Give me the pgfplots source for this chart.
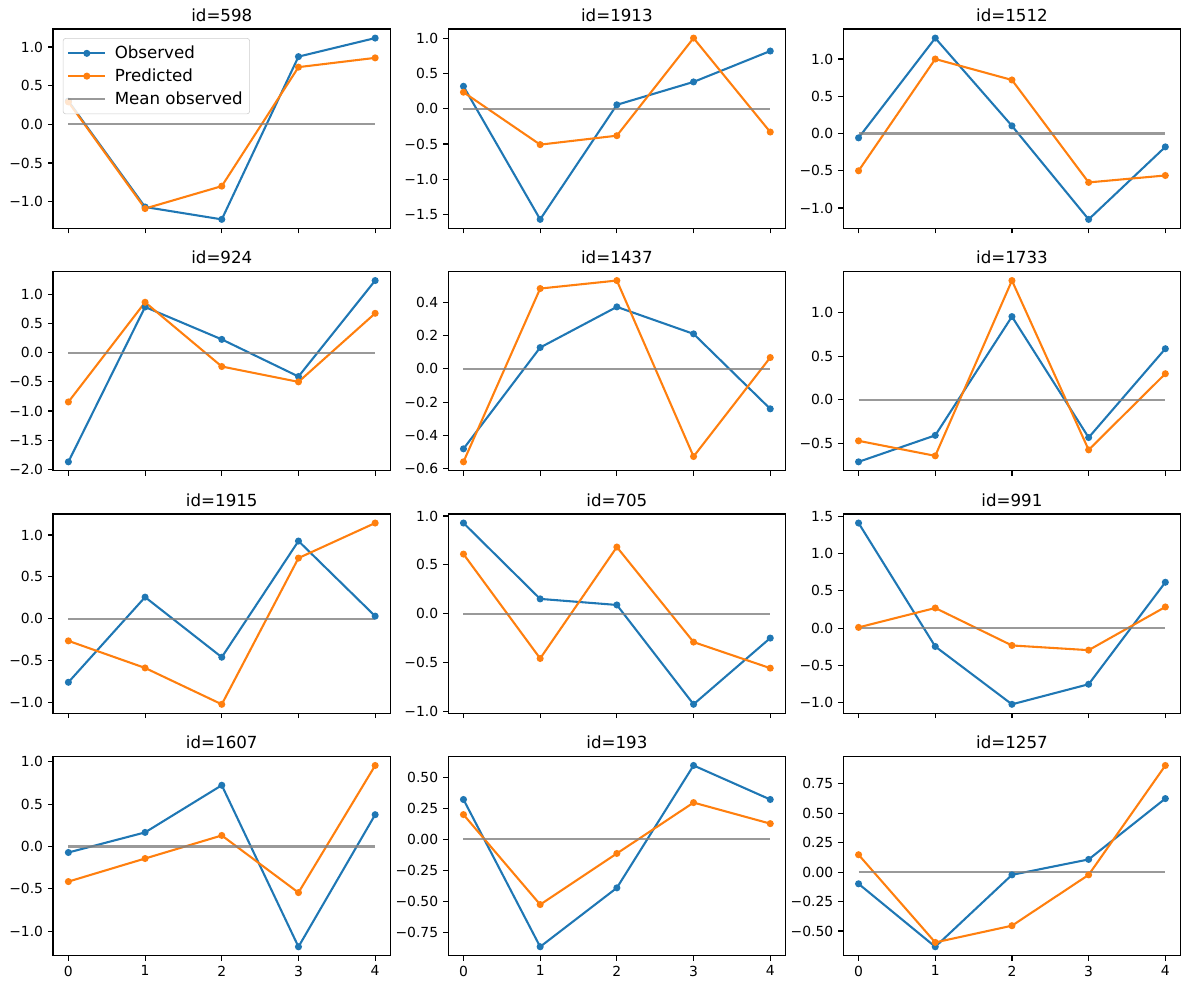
\documentclass[border=0pt]{standalone}
\usepackage{fontspec}
\setmainfont{DejaVu Sans}
\usepackage{pgfplots}
\pgfplotsset{compat=1.18}
\usepgfplotslibrary{groupplots}

\definecolor{tabblue}{HTML}{1F77B4}
\definecolor{taborange}{HTML}{FF7F0E}

% 1 px of the reference = 0.72pt
\pgfplotsset{
  obs/.style={color=tabblue, line width=1.5pt, mark=*, mark size=1.75pt, mark options={draw=none, fill=tabblue}},
  pred/.style={color=taborange, line width=1.5pt, mark=*, mark size=1.75pt, mark options={draw=none, fill=taborange}},
  meanobs/.style={color=gray, opacity=0.8, line width=1.5pt, no marks},
}

\begin{document}
\begin{tikzpicture}
\begin{groupplot}[
    group style={group size=3 by 4, horizontal sep=41.5pt, vertical sep=31pt},
    scale only axis,
    width=243pt,
    height=143.6pt,
    xmin=-0.2, xmax=4.2,
    enlarge y limits=0.05,
    xtick={0,1,2,3,4},
    xticklabels={},
    xtick pos=lower, ytick pos=left,
    tick align=outside,
    major tick length=3.5pt,
    tick style={black, line width=0.8pt},
    axis line style={line width=0.8pt},
    tick label style={font=\fontsize{10}{12}\selectfont},
    yticklabel style={anchor=east, inner sep=0pt, xshift=-3.5pt},
    xticklabel style={anchor=north, inner sep=0pt, yshift=-3.5pt},
    title style={anchor=base, inner sep=0pt, yshift=-0.6pt, font=\fontsize{12}{14}\selectfont},
    legend cell align=left,
    legend image code/.code={\draw[mark repeat=2, mark phase=2] plot coordinates {(0cm,0cm) (0.47cm,0cm) (0.94cm,0cm)};},
    legend style={at={(0,1)}, anchor=north west, xshift=7pt, yshift=-6.5pt,
      draw=black!20, rounded corners=2pt, fill=white, fill opacity=0.8, text opacity=1,
      font=\fontsize{12}{14}\selectfont, row sep=1.8pt, inner xsep=3pt, inner ysep=3.5pt,
      /tikz/every odd column/.append style={column sep=4pt}},
]

% row 1
\nextgroupplot[title={id=598}, ytick={-1,-0.5,0,0.5,1}, yticklabels={−1.0,−0.5,0.0,0.5,1.0}]
\addplot[obs] coordinates {(0,0.30)(1,-1.07)(2,-1.23)(3,0.876)(4,1.116)};
\addlegendentry{Observed}
\addplot[pred] coordinates {(0,0.29)(1,-1.09)(2,-0.80)(3,0.74)(4,0.86)};
\addlegendentry{Predicted}
\addplot[meanobs] coordinates {(0,0)(4,0)};
\addlegendentry{Mean observed}

\nextgroupplot[title={id=1913}, ytick={-1.5,-1,-0.5,0,0.5,1}, yticklabels={−1.5,−1.0,−0.5,0.0,0.5,1.0}]
\addplot[obs] coordinates {(0,0.32)(1,-1.571)(2,0.057)(3,0.382)(4,0.821)};
\addplot[pred] coordinates {(0,0.236)(1,-0.509)(2,-0.382)(3,1.005)(4,-0.330)};
\addplot[meanobs] coordinates {(0,0)(4,0)};

\nextgroupplot[title={id=1512}, ytick={-1,-0.5,0,0.5,1}, yticklabels={−1.0,−0.5,0.0,0.5,1.0}]
\addplot[obs] coordinates {(0,-0.058)(1,1.281)(2,0.103)(3,-1.152)(4,-0.179)};
\addplot[pred] coordinates {(0,-0.50)(1,1.0)(2,0.719)(3,-0.656)(4,-0.563)};
\addplot[meanobs] coordinates {(0,0)(4,0)};

% row 2
\nextgroupplot[title={id=924}, ytick={-2,-1.5,-1,-0.5,0,0.5,1}, yticklabels={−2.0,−1.5,−1.0,−0.5,0.0,0.5,1.0}]
\addplot[obs] coordinates {(0,-1.874)(1,0.787)(2,0.230)(3,-0.408)(4,1.241)};
\addplot[pred] coordinates {(0,-0.845)(1,0.868)(2,-0.236)(3,-0.50)(4,0.678)};
\addplot[meanobs] coordinates {(0,0)(4,0)};

\nextgroupplot[title={id=1437}, ytick={-0.6,-0.4,-0.2,0,0.2,0.4}, yticklabels={−0.6,−0.4,−0.2,0.0,0.2,0.4}]
\addplot[obs] coordinates {(0,-0.48)(1,0.128)(2,0.372)(3,0.21)(4,-0.24)};
\addplot[pred] coordinates {(0,-0.558)(1,0.482)(2,0.53)(3,-0.526)(4,0.068)};
\addplot[meanobs] coordinates {(0,0)(4,0)};

\nextgroupplot[title={id=1733}, ytick={-0.5,0,0.5,1}, yticklabels={−0.5,0.0,0.5,1.0}]
\addplot[obs] coordinates {(0,-0.715)(1,-0.41)(2,0.958)(3,-0.435)(4,0.588)};
\addplot[pred] coordinates {(0,-0.473)(1,-0.646)(2,1.373)(3,-0.577)(4,0.30)};
\addplot[meanobs] coordinates {(0,0)(4,0)};

% row 3
\nextgroupplot[title={id=1915}, ytick={-1,-0.5,0,0.5,1}, yticklabels={−1.0,−0.5,0.0,0.5,1.0}]
\addplot[obs] coordinates {(0,-0.757)(1,0.259)(2,-0.458)(3,0.928)(4,0.032)};
\addplot[pred] coordinates {(0,-0.263)(1,-0.586)(2,-1.02)(3,0.725)(4,1.143)};
\addplot[meanobs] coordinates {(0,0)(4,0)};

\nextgroupplot[title={id=705}, ytick={-1,-0.5,0,0.5,1}, yticklabels={−1.0,−0.5,0.0,0.5,1.0}]
\addplot[obs] coordinates {(0,0.928)(1,0.151)(2,0.089)(3,-0.928)(4,-0.25)};
\addplot[pred] coordinates {(0,0.610)(1,-0.459)(2,0.682)(3,-0.291)(4,-0.558)};
\addplot[meanobs] coordinates {(0,0)(4,0)};

\nextgroupplot[title={id=991}, ytick={-1,-0.5,0,0.5,1,1.5}, yticklabels={−1.0,−0.5,0.0,0.5,1.0,1.5}]
\addplot[obs] coordinates {(0,1.408)(1,-0.247)(2,-1.022)(3,-0.753)(4,0.614)};
\addplot[pred] coordinates {(0,0.009)(1,0.269)(2,-0.233)(3,-0.296)(4,0.283)};
\addplot[meanobs] coordinates {(0,0)(4,0)};

% row 4
\nextgroupplot[title={id=1607}, ytick={-1,-0.5,0,0.5,1}, yticklabels={−1.0,−0.5,0.0,0.5,1.0}, xticklabels={0,1,2,3,4}]
\addplot[obs] coordinates {(0,-0.071)(1,0.166)(2,0.722)(3,-1.183)(4,0.375)};
\addplot[pred] coordinates {(0,-0.414)(1,-0.142)(2,0.130)(3,-0.544)(4,0.955)};
\addplot[meanobs] coordinates {(0,0)(4,0)};

\nextgroupplot[title={id=193}, ytick={-0.75,-0.5,-0.25,0,0.25,0.5}, yticklabels={−0.75,−0.50,−0.25,0.00,0.25,0.50}, xticklabels={0,1,2,3,4}]
\addplot[obs] coordinates {(0,0.322)(1,-0.868)(2,-0.392)(3,0.597)(4,0.322)};
\addplot[pred] coordinates {(0,0.20)(1,-0.527)(2,-0.114)(3,0.297)(4,0.127)};
\addplot[meanobs] coordinates {(0,0)(4,0)};

\nextgroupplot[title={id=1257}, ytick={-0.5,-0.25,0,0.25,0.5,0.75}, yticklabels={−0.50,−0.25,0.00,0.25,0.50,0.75}, xticklabels={0,1,2,3,4}]
\addplot[obs] coordinates {(0,-0.099)(1,-0.634)(2,-0.023)(3,0.108)(4,0.625)};
\addplot[pred] coordinates {(0,0.148)(1,-0.597)(2,-0.455)(3,-0.023)(4,0.906)};
\addplot[meanobs] coordinates {(0,0)(4,0)};
\end{groupplot}
\pgfresetboundingbox
\path[use as bounding box] ([xshift=-38.2pt, yshift=20.9pt]group c1r1.north west) rectangle ([xshift=6pt, yshift=-24.5pt]group c3r4.south east);
\end{tikzpicture}
\end{document}
